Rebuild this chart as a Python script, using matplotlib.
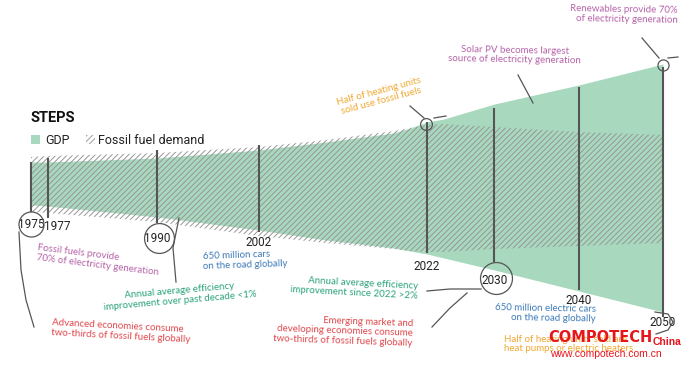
import matplotlib.pyplot as plt
from matplotlib.lines import Line2D
from matplotlib.patches import Rectangle
import numpy as np

plt.rcParams['hatch.linewidth'] = 0.7

# band edges (relative units, 0 = centre of the stream)
years = [1975, 1977, 1990, 2002, 2010, 2018, 2020, 2022, 2024, 2030, 2040, 2050]
fossil_top = [29, 30, 33, 39, 46, 55, 58, 61, 62, 59, 54, 51]
fossil_bottom = [-26, -27, -36, -50, -57, -63, -65, -66, -66, -63, -60, -57]
gdp_top = [24, 24, 28, 36, 44, 53, 58, 64, 67, 82, 101, 122]
gdp_bottom = [-19, -20, -31, -44, -54, -62, -65, -68, -72, -84, -105, -126]

# milestone years and their marker lines
mark_years = [1975, 1977, 1990, 2002, 2022, 2030, 2040, 2050]
mark_top = [24, 28, 36, 41, 64, 78, 99, 119]
mark_bottom = [-26, -32, -37, -46, -67, -76, -104, -131]
mark_label_y = [-38, -41, -52, -57, -80, -94, -115, -136]

green = '#a8d9be'
grey = '#555555'

fig = plt.figure(figsize=(6.88, 3.65), dpi=100)
ax = fig.add_axes([0, 0, 1, 1])
ax.axis('off')
ax.set_xlim(1971.32, 2052.97)
ax.set_ylim(-179, 186)

ax.fill_between(years, gdp_bottom, gdp_top, color=green, linewidth=0, zorder=1)
ax.fill_between(years, fossil_bottom, fossil_top, facecolor='none', edgecolor='#969696',
                hatch='//////', linewidth=0, zorder=2)

ax.vlines(mark_years, mark_bottom, mark_top, color=grey, linewidth=1.5, zorder=3)

for i, yr in enumerate(mark_years):
    x = yr
    if yr == 1977:
        x = 1978.1
    ax.text(x, mark_label_y[i], str(yr), ha='center', va='center', fontsize=8.5,
            family='Roboto', color='#222222', zorder=4)

# hand drawn circles
circles = [(1975, -38, 18), (1990.2, -52, 21.5), (2030.2, -92, 23), (2021.9, 62, 8.5), (2050, 121, 8)]
for cx, cy, ms in circles:
    ax.plot([cx], [cy], 'o', ms=ms, mfc='none', mec=grey, mew=0.9, zorder=4)


def P(px, py):
    return px / 688, 1 - py / 365


def leader(pts):
    xs = [p[0] / 688 for p in pts]
    ys = [1 - p[1] / 365 for p in pts]
    fig.add_artist(Line2D(xs, ys, color=grey, linewidth=0.9, transform=fig.transFigure))


leader([(19, 232), (21, 270), (26, 300), (34, 327)])
leader([(179, 218), (173, 248), (176, 282)])
leader([(410, 106), (424, 118)])
leader([(434, 118), (446, 116)])
leader([(427, 291), (450, 289), (481, 289)])
leader([(432, 327), (450, 308), (467, 293)])
leader([(518, 75), (533, 103)])
leader([(642, 38), (659, 58)])
leader([(668, 58), (678, 57)])
leader([(655, 312), (668, 314), (673, 322), (668, 330), (656, 334)])

# title and legend
fig.text(*P(31, 118), 'STEPS', fontsize=10.5, fontweight='bold', family='Roboto',
         va='center', ha='left', color='#111111')
fig.add_artist(Rectangle(P(31, 144), 9 / 688, 9 / 365, transform=fig.transFigure,
                         facecolor=green, edgecolor='none'))
fig.add_artist(Rectangle(P(86, 144), 9 / 688, 9 / 365, transform=fig.transFigure,
                         facecolor='none', edgecolor='#9a9a9a', hatch='//////', linewidth=0))
fig.text(*P(45, 140), 'GDP', fontsize=9, family='Roboto', va='center', ha='left', color='#222222')
fig.text(*P(98, 140), 'Fossil fuel demand', fontsize=9, family='Roboto', va='center', ha='left',
         color='#222222')

purple = '#b563a8'
blue = '#3d7ab8'
teal = '#2ba37d'
red = '#e0474c'
orange = '#f0a830'

notes = [
    (98, 260, 'Fossil fuels provide\n70% of electricity generation', purple, -7, 'left'),
    (245, 260, '650 million cars\non the road globally', blue, 2, 'left'),
    (180, 296, 'Annual average efficiency\nimprovement over past decade <1%', teal, 5, 'center'),
    (121, 331, 'Advanced economies consume\ntwo-thirds of fossil fuels globally', red, -3, 'left'),
    (354, 288, 'Annual average efficiency\nimprovement since 2022 >2%', teal, -3, 'right'),
    (343, 331, 'Emerging market and\ndeveloping economies consume\ntwo-thirds of fossil fuels globally',
     red, -2, 'right'),
    (545, 313, '650 million electric cars\non the road globally', blue, -1, 'right'),
    (380, 96, 'Half of heating units\nsold use fossil fuels', orange, 15, 'center'),
    (515, 55, 'Solar PV becomes largest\nsource of electricity generation', purple, -1, 'center'),
    (624, 14, 'Renewables provide 70%\nof electricity generation', purple, -1, 'right'),
    (569, 344, 'Half of heating units sold are\nheat pumps or electric heaters', orange, 0, 'left'),
]
for px, py, txt, col, rot, al in notes:
    fig.text(*P(px, py), txt, fontsize=7, family='Lato', color=col, rotation=rot,
             rotation_mode='anchor', ha='center', va='center', multialignment=al,
             linespacing=1.1)

# watermark
fig.text(*P(548, 338), 'COMPOTECH', fontsize=11.7, fontweight='bold', color='#e8141c',
         family='DejaVu Sans', fontstretch='condensed', va='center', ha='left')
fig.text(*P(653, 342), 'China', fontsize=7.5, fontweight='bold', color='#e8141c',
         family='Liberation Sans', va='center', ha='left')
fig.text(*P(550, 354), 'www.compotech.com.cn', fontsize=7.5, color='#e8141c',
         family='Liberation Sans', va='center', ha='left')

fig.savefig('out.png', dpi=100)
